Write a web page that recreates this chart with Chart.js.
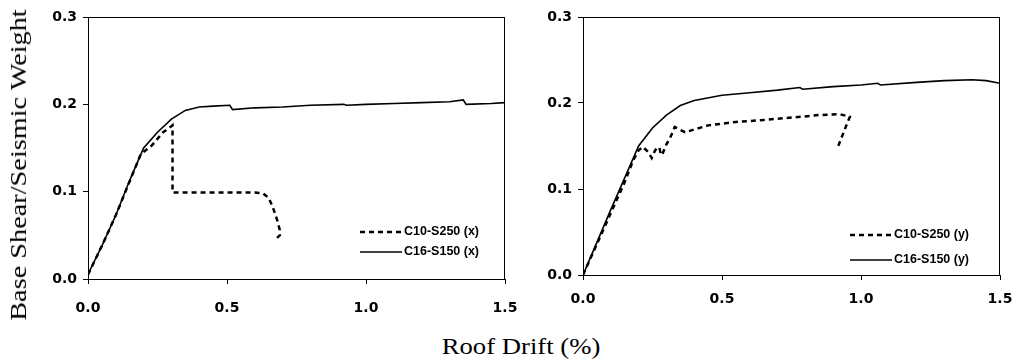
<!DOCTYPE html>
<html>
<head>
<meta charset="utf-8">
<script src="https://cdn.jsdelivr.net/npm/chart.js@4.4.1/dist/chart.umd.min.js"></script>
<style>
    body { margin: 0; background: #fff; }
    #page { position: relative; width: 1015px; height: 362px; overflow: hidden; }
    #leftChart { position: absolute; left: 0; top: 0; }
    #rightChart { position: absolute; left: 520px; top: 0; }
    .title { position: absolute; font-family: "Liberation Serif", "Times New Roman", serif; font-size: 23px; color: #000; white-space: nowrap; }
    #yTitle { left: 19px; top: 165px; transform: translate(-50%, -50%) rotate(-90deg) scaleX(1.23); }
    #xTitle { left: 521px; top: 347px; transform: translate(-50%, -50%) scaleX(1.16); }
</style>
</head>
<body>
<div id="page">
    <canvas id="leftChart" width="520" height="325"></canvas>
    <canvas id="rightChart" width="495" height="325"></canvas>
    <div class="title" id="yTitle">Base Shear/Seismic Weight</div>
    <div class="title" id="xTitle">Roof Drift (%)</div>
</div>
<script>
// ticks
var driftTicks = [0.0, 0.5, 1.0, 1.5];
var shearTicks = [0.0, 0.1, 0.2, 0.3];

// left panel, x direction
var leftLabels = ['C10-S250 (x)', 'C16-S150 (x)'];
var c10xDrift = [0, 0.05, 0.1, 0.15, 0.19, 0.21, 0.23, 0.27, 0.3, 0.304, 0.304, 0.4, 0.5, 0.6, 0.63, 0.65, 0.665, 0.68, 0.69, 0.69, 0.67];
var c10xShear = [0.005, 0.038, 0.073, 0.112, 0.143, 0.148, 0.153, 0.168, 0.175, 0.176, 0.099, 0.099, 0.099, 0.099, 0.098, 0.093, 0.082, 0.068, 0.056, 0.05, 0.044];
var c16xDrift = [0, 0.01, 0.05, 0.1, 0.15, 0.2, 0.25, 0.3, 0.35, 0.4, 0.45, 0.51, 0.52, 0.6, 0.7, 0.8, 0.92, 0.93, 1.0, 1.1, 1.2, 1.3, 1.35, 1.36, 1.45, 1.5];
var c16xShear = [0.005, 0.012, 0.038, 0.073, 0.113, 0.15, 0.168, 0.183, 0.193, 0.197, 0.198, 0.199, 0.194, 0.196, 0.197, 0.199, 0.2, 0.199, 0.2, 0.201, 0.202, 0.203, 0.205, 0.2, 0.201, 0.202];

// right panel, y direction
var rightLabels = ['C10-S250 (y)', 'C16-S150 (y)'];
var c10yDrift = [0, 0.05, 0.1, 0.15, 0.18, 0.2, 0.215, 0.235, 0.247, 0.255, 0.265, 0.275, 0.28, 0.285, 0.3, 0.313, 0.33, 0.367, 0.45, 0.55, 0.64, 0.75, 0.85, 0.924, 0.96, 0.94, 0.917];
var c10yShear = [0, 0.036, 0.072, 0.108, 0.133, 0.145, 0.149, 0.143, 0.136, 0.142, 0.148, 0.148, 0.14, 0.14, 0.152, 0.159, 0.172, 0.166, 0.174, 0.178, 0.18, 0.183, 0.186, 0.187, 0.184, 0.168, 0.149];
var c16yDrift = [0, 0.05, 0.1, 0.15, 0.2, 0.25, 0.3, 0.35, 0.4, 0.5, 0.6, 0.7, 0.78, 0.79, 0.9, 1.0, 1.06, 1.07, 1.2, 1.3, 1.4, 1.45, 1.5];
var c16yShear = [0, 0.038, 0.076, 0.113, 0.15, 0.171, 0.186, 0.197, 0.203, 0.209, 0.212, 0.215, 0.218, 0.216, 0.219, 0.221, 0.223, 0.221, 0.224, 0.226, 0.227, 0.226, 0.223];

function toPoints(xs, ys) {
    return xs.map(function (x, i) { return { x: x, y: ys[i] }; });
}

// box around the plot area and the little legend in the lower right
var framePlugin = {
    id: 'frame',
    afterDraw: function (chart, args, opts) {
        var ctx = chart.ctx;
        var a = chart.chartArea;
        ctx.save();
        ctx.strokeStyle = '#000';
        ctx.lineWidth = 1;
        ctx.strokeRect(a.left + 0.5, a.top + 0.5, a.right - a.left - 1, a.bottom - a.top);

        ctx.font = 'bold 12.5px "Liberation Sans", Arial, sans-serif';
        ctx.textBaseline = 'middle';
        ctx.fillStyle = '#000';
        chart.data.datasets.forEach(function (ds, i) {
            var y = a.bottom - opts.rows[i];
            var x0 = a.right - opts.lineStart;
            ctx.beginPath();
            ctx.setLineDash(ds.borderDash || []);
            ctx.lineWidth = ds.borderWidth;
            ctx.strokeStyle = '#000';
            ctx.moveTo(x0, y);
            ctx.lineTo(x0 + 42, y);
            ctx.stroke();
            ctx.setLineDash([]);
            ctx.fillText(ds.label, x0 + 44, y);
        });
        ctx.restore();
    }
};

function makeChart(id, labels, dashedPts, solidPts, axisLeft, axisBottom, xPad, rows, lineStart) {
    var ctx = document.getElementById(id).getContext('2d');
    return new Chart(ctx, {
        type: 'scatter',
        data: {
            datasets: [{
                label: labels[0],
                data: dashedPts,
                showLine: true,
                borderColor: '#000',
                borderWidth: 2.5,
                borderDash: [5, 4],
                pointRadius: 0,
                tension: 0
            }, {
                label: labels[1],
                data: solidPts,
                showLine: true,
                borderColor: '#000',
                borderWidth: 1.6,
                pointRadius: 0,
                tension: 0
            }]
        },
        options: {
            responsive: false,
            animation: false,
            layout: { padding: { left: 0, right: 15, top: 17, bottom: 0 } },
            plugins: {
                legend: { display: false },
                tooltip: { enabled: false },
                frame: { rows: rows, lineStart: lineStart }
            },
            scales: {
                x: {
                    type: 'linear',
                    min: driftTicks[0],
                    max: driftTicks[driftTicks.length - 1],
                    afterFit: function (scale) {
                        scale.height = axisBottom;
                        scale.paddingLeft = 0;
                        scale.paddingRight = 0;
                    },
                    afterBuildTicks: function (scale) {
                        scale.ticks = driftTicks.map(function (v) { return { value: v }; });
                    },
                    border: { display: false },
                    grid: { drawOnChartArea: false, drawTicks: true, tickLength: 5, color: '#000' },
                    ticks: {
                        padding: xPad,
                        maxRotation: 0,
                        color: '#000',
                        font: { family: '"DejaVu Sans", sans-serif', size: 14, weight: 'bold' },
                        callback: function (v) { return v.toFixed(1); }
                    }
                },
                y: {
                    type: 'linear',
                    min: shearTicks[0],
                    max: shearTicks[shearTicks.length - 1],
                    afterFit: function (scale) {
                        scale.width = axisLeft;
                        scale.paddingTop = 0;
                        scale.paddingBottom = 0;
                    },
                    afterBuildTicks: function (scale) {
                        scale.ticks = shearTicks.map(function (v) { return { value: v }; });
                    },
                    border: { display: false },
                    grid: { drawOnChartArea: false, drawTicks: true, tickLength: 5, color: '#000' },
                    ticks: {
                        padding: 6,
                        color: '#000',
                        font: { family: '"DejaVu Sans", sans-serif', size: 14, weight: 'bold' },
                        callback: function (v) { return v.toFixed(1); }
                    }
                }
            }
        },
        plugins: [framePlugin]
    });
}

var leftChart = makeChart('leftChart', leftLabels,
    toPoints(c10xDrift, c10xShear), toPoints(c16xDrift, c16xShear),
    88, 46, 16, [47, 27], 145);

var rightChart = makeChart('rightChart', rightLabels,
    toPoints(c10yDrift, c10yShear), toPoints(c16yDrift, c16yShear),
    63, 50, 11, [40, 15], 150);
</script>
</body>
</html>
